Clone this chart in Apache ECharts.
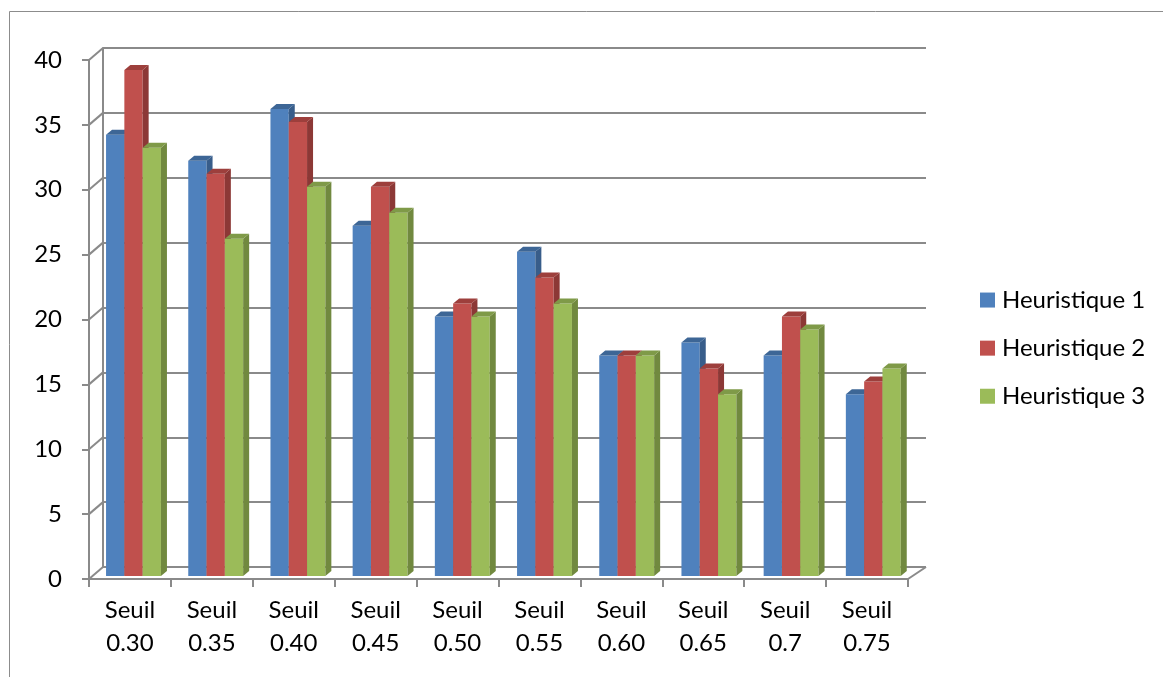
<html>
  <head>
    <title>Seuils</title>
    <script src="https://cdn.jsdelivr.net/npm/echarts@6/dist/echarts.min.js"></script>
  </head>
  <body style="margin:0px;">
    <div id="chart" style="width:1163px;height:677px;"></div>
  </body>
</html>
<script type="text/javascript">
  const categories = ['Seuil\n0.30', 'Seuil\n0.35', 'Seuil\n0.40', 'Seuil\n0.45', 'Seuil\n0.50',
                      'Seuil\n0.55', 'Seuil\n0.60', 'Seuil\n0.65', 'Seuil\n0.7', 'Seuil\n0.75']
  const heuristique1 = [34, 32, 36, 27, 20, 25, 17, 18, 17, 14]
  const heuristique2 = [39, 31, 35, 30, 21, 23, 17, 16, 20, 15]
  const heuristique3 = [33, 26, 30, 28, 20, 21, 17, 14, 19, 16]
  const seriesNames = ['Heuristique 1', 'Heuristique 2', 'Heuristique 3']
  const yTicks = [0, 5, 10, 15, 20, 25, 30, 35, 40]

  const palette = [
    { front: '#4f81bd', side: '#385d8a', top: '#3d6696' },
    { front: '#c0504d', side: '#8c3836', top: '#9d3f3c' },
    { front: '#9bbb59', side: '#71893f', top: '#7f9a48' }
  ]
  const FONT = 'Lato'
  const GRAY = '#8a8a8a'
  const BAR_W = 18.3
  const DX = 6, DY = -5

  function barSeries(idx, values) {
    return {
      name: seriesNames[idx],
      type: 'custom',
      xAxisIndex: 2,
      yAxisIndex: 2,
      z: 5,
      itemStyle: { color: palette[idx].front },
      data: values.map((v, i) => [i, v]),
      renderItem: function (params, api) {
        const c = palette[idx]
        const base = api.coord([api.value(0), 0])
        const top = api.coord([api.value(0), api.value(1)])
        const x0 = base[0] + (idx - 1.5) * BAR_W
        const x1 = x0 + BAR_W
        const y0 = base[1], y1 = top[1]
        return {
          type: 'group',
          children: [
            { type: 'rect', shape: { x: x0, y: y1, width: BAR_W, height: y0 - y1 }, style: { fill: c.front } },
            { type: 'polygon', shape: { points: [[x1, y0], [x1 + DX, y0 + DY], [x1 + DX, y1 + DY], [x1, y1]] }, style: { fill: c.side } },
            { type: 'polygon', shape: { points: [[x0, y1], [x0 + DX, y1 + DY], [x1 + DX, y1 + DY], [x1, y1]] }, style: { fill: c.top } }
          ]
        }
      }
    }
  }

  // little diagonals joining the front axis to the back wall
  const wallSeries = {
    type: 'custom',
    xAxisIndex: 0,
    yAxisIndex: 0,
    silent: true,
    z: 1,
    data: yTicks.map((v) => [0, v]),
    renderItem: function (params, api) {
      const cs = params.coordSys
      const y = api.coord([0, api.value(1)])[1]
      const children = [
        { type: 'line', shape: { x1: cs.x, y1: y, x2: cs.x + 14, y2: y - 12 }, style: { stroke: GRAY, lineWidth: 2 } }
      ]
      if (api.value(1) === 0) {
        children.push({ type: 'line', shape: { x1: cs.x + cs.width, y1: y, x2: cs.x + cs.width + 18, y2: y - 12 }, style: { stroke: GRAY, lineWidth: 2 } })
      }
      return { type: 'group', children: children }
    }
  }

  const myChart = echarts.init(document.getElementById('chart'))

  let option = {
    animation: false,
    backgroundColor: '#fff',
    textStyle: { fontFamily: FONT },
    graphic: [{
      type: 'rect',
      shape: { x: 9.5, y: 11.5, width: 1200, height: 700 },
      style: { fill: 'none', stroke: '#8c8c8c', lineWidth: 1 },
      silent: true
    }],
    legend: {
      orient: 'vertical',
      left: 975,
      top: 277,
      itemWidth: 15,
      itemHeight: 15,
      itemGap: 12,
      icon: 'rect',
      data: seriesNames,
      textStyle: { fontFamily: FONT, fontSize: 24, lineHeight: 24, color: '#000', padding: [0, 0, 0, 2] }
    },
    grid: [
      { left: 89, top: 60, width: 819, height: 519 },
      { left: 103, top: 48, width: 823, height: 519 },
      { left: 92.4, top: 57, width: 822, height: 519 }
    ],
    xAxis: [
      {
        type: 'category', gridIndex: 0, data: categories,
        axisLine: { lineStyle: { color: GRAY, width: 2 } },
        axisTick: { show: true, length: 8, lineStyle: { color: GRAY, width: 2 } },
        axisLabel: { color: '#000', fontSize: 24, lineHeight: 33, margin: 15, interval: 0, fontFamily: FONT }
      },
      { type: 'category', gridIndex: 1, data: categories, show: false },
      { type: 'category', gridIndex: 2, data: categories, show: false }
    ],
    yAxis: [
      {
        type: 'value', gridIndex: 0, min: 0, max: 40, interval: 5,
        axisLine: { show: true, lineStyle: { color: GRAY, width: 2 } },
        axisTick: { show: true, length: 7, lineStyle: { color: GRAY, width: 2 } },
        axisLabel: { color: '#000', fontSize: 24, margin: 27, fontFamily: FONT },
        splitLine: { show: false }
      },
      {
        type: 'value', gridIndex: 1, min: 0, max: 40, interval: 5,
        axisLine: { show: true, lineStyle: { color: GRAY, width: 2 } },
        axisTick: { show: false },
        axisLabel: { show: false },
        splitLine: { show: true, lineStyle: { color: GRAY, width: 2 } }
      },
      { type: 'value', gridIndex: 2, min: 0, max: 40, interval: 5, show: false, splitLine: { show: false } }
    ],
    series: [
      wallSeries,
      barSeries(0, heuristique1),
      barSeries(1, heuristique2),
      barSeries(2, heuristique3)
    ]
  }

  myChart.setOption(option)
</script>
